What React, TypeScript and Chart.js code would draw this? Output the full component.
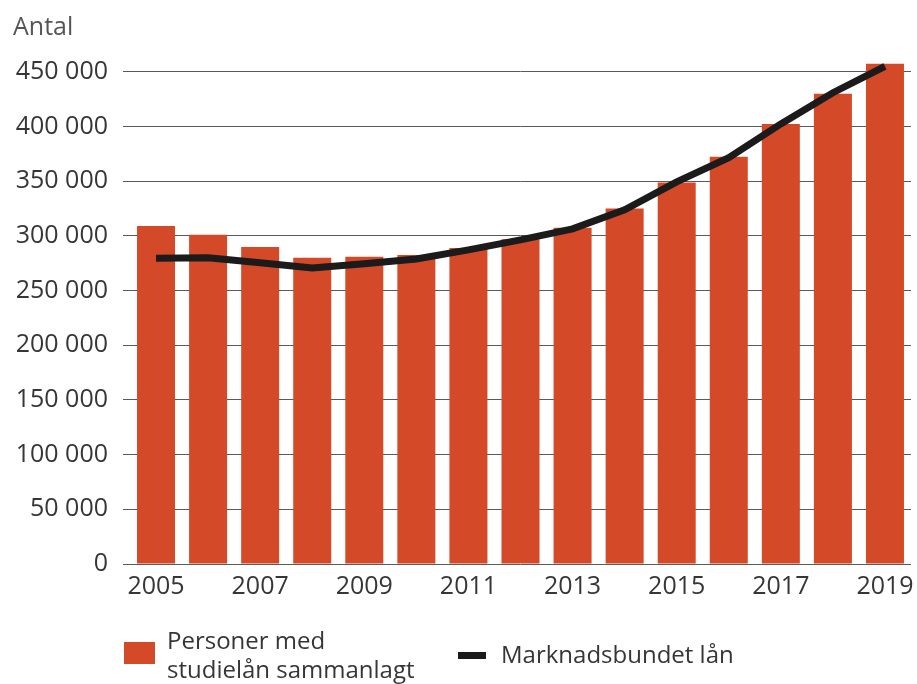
import React, { useEffect, useRef } from "react";
import { Chart, registerables } from "chart.js";

Chart.register(...registerables);

const years = ["2005","2006","2007","2008","2009","2010","2011","2012","2013","2014","2015","2016","2017","2018","2019"];
const personerMedStudielan = [309000, 301000, 290000, 280000, 281000, 282500, 289000, 297000, 307500, 325000, 349000, 372500, 402500, 430000, 457500];
const marknadsbundetLan = [279500, 280000, 275500, 270800, 274500, 279000, 287300, 296400, 306500, 324000, 349500, 371500, 402500, 431000, 455000];
const yTicks = [0, 50000, 100000, 150000, 200000, 250000, 300000, 350000, 400000, 450000];

const barLabel = ["Personer med", "studielån sammanlagt"];
const lineLabel = "Marknadsbundet lån";
const yTitle = "Antal";

const BAR_COLOR = "#d44927";
const LINE_COLOR = "#1b1b1b";
const TEXT_COLOR = "#363636";
const FONT = "'Open Sans', 'Noto Sans', sans-serif";
const FS = 25;

const fmt = (v: number) => String(v).replace(/\B(?=(\d{3})+(?!\d))/g, " ");

const overlayPlugin = {
  id: "overlay",
  afterDraw(chart: any) {
    const ctx = chart.ctx;
    ctx.save();
    ctx.font = `${FS}px ${FONT}`;
    ctx.fillStyle = "#555555";
    ctx.textAlign = "left";
    ctx.textBaseline = "alphabetic";
    ctx.fillText(yTitle, 13, 35);

    // legend
    ctx.font = `24px ${FONT}`;
    ctx.fillStyle = BAR_COLOR;
    ctx.fillRect(124, 642, 31, 22);
    ctx.fillStyle = TEXT_COLOR;
    ctx.fillText(barLabel[0], 167, 649);
    ctx.fillText(barLabel[1], 167, 678);

    ctx.fillStyle = LINE_COLOR;
    ctx.fillRect(458, 652, 28, 7);
    ctx.fillStyle = TEXT_COLOR;
    ctx.fillText(lineLabel, 501, 663);
    ctx.restore();
  },
};

export default function App() {
  const ref = useRef<HTMLCanvasElement>(null);
  useEffect(() => {
    if (!ref.current) return;
    const chart = new Chart(ref.current, {
      type: "bar",
      data: {
        labels: years,
        datasets: [
          {
            type: "line",
            label: lineLabel,
            data: marknadsbundetLan,
            borderColor: LINE_COLOR,
            backgroundColor: LINE_COLOR,
            borderWidth: 7,
            pointRadius: 0,
            tension: 0,
            order: 0,
          } as any,
          {
            type: "bar",
            label: barLabel.join(" "),
            data: personerMedStudielan,
            backgroundColor: BAR_COLOR,
            barPercentage: 0.73,
            categoryPercentage: 1,
            order: 1,
          },
        ],
      },
      options: {
        animation: false,
        responsive: false,
        devicePixelRatio: 1,
        layout: { padding: { top: 61, right: 6, left: 0, bottom: 0 } },
        plugins: { legend: { display: false }, tooltip: { enabled: false }, title: { display: false } },
        scales: {
          x: {
            grid: { display: false },
            border: { display: false },
            ticks: {
              autoSkip: false,
              maxRotation: 0,
              padding: 0,
              color: TEXT_COLOR,
              font: { size: FS, family: FONT },
              callback: (_v: any, i: number) => (i % 2 === 0 ? years[i] : ""),
            },
            afterFit: (s: any) => { s.height = 120; },
          },
          y: {
            min: 0,
            max: 460000,
            border: { display: false },
            grid: { color: "#5a5a5a", lineWidth: 1, drawTicks: true, tickLength: 7 },
            afterBuildTicks: (s: any) => { s.ticks = yTicks.map((v) => ({ value: v })); },
            ticks: {
              padding: 15,
              color: TEXT_COLOR,
              font: { size: FS, family: FONT },
              callback: (v: any) => fmt(Number(v)),
            },
            afterFit: (s: any) => { s.width = 130; },
          },
        },
      },
      plugins: [overlayPlugin],
    });
    return () => chart.destroy();
  }, []);
  return (
    <div style={{ position: "fixed", left: 0, top: 0, width: 917, height: 684, background: "#fff" }}>
      <canvas ref={ref} width={917} height={684} />
    </div>
  );
}
